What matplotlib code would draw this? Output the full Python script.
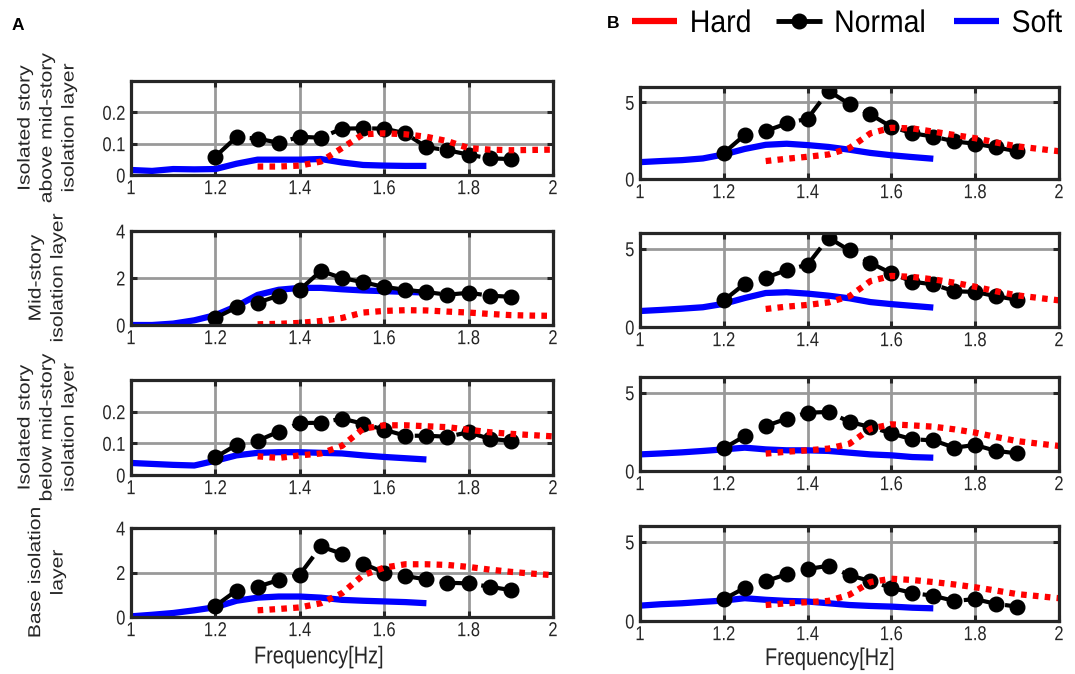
import matplotlib
matplotlib.use("Agg")
import matplotlib.pyplot as plt
from matplotlib import patheffects
from matplotlib.transforms import Affine2D
from matplotlib.lines import Line2D

# ---------------- data ----------------
freq_soft = [1.0, 1.05, 1.1, 1.15, 1.2, 1.25, 1.3, 1.35, 1.4, 1.45, 1.5, 1.55, 1.6, 1.65, 1.7]
freq_normal = [1.2, 1.25, 1.3, 1.35, 1.4, 1.45, 1.5, 1.55, 1.6, 1.65, 1.7, 1.75, 1.8, 1.85, 1.9]
freq_hard = [1.3, 1.35, 1.4, 1.45, 1.5, 1.55, 1.6, 1.65, 1.7, 1.75, 1.8, 1.85, 1.9, 1.95, 2.0]

# Column A
normal_a1 = [0.059, 0.121, 0.116, 0.103, 0.122, 0.119, 0.148, 0.149, 0.148, 0.133, 0.089, 0.079, 0.065, 0.053, 0.051]
hard_a1 = [0.027, 0.027, 0.030, 0.043, 0.086, 0.130, 0.133, 0.130, 0.122, 0.108, 0.086, 0.081, 0.079, 0.080, 0.081]
soft_a1 = [0.016, 0.013, 0.019, 0.018, 0.019, 0.036, 0.049, 0.049, 0.049, 0.051, 0.040, 0.032, 0.030, 0.029, 0.029]

normal_a2 = [0.30, 0.75, 0.95, 1.25, 1.50, 2.30, 2.00, 1.82, 1.62, 1.50, 1.40, 1.29, 1.37, 1.25, 1.20]
hard_a2 = [0.03, 0.05, 0.09, 0.17, 0.30, 0.53, 0.60, 0.63, 0.62, 0.57, 0.53, 0.47, 0.42, 0.40, 0.39]
soft_a2 = [0.00, 0.00, 0.06, 0.20, 0.42, 0.80, 1.28, 1.50, 1.58, 1.58, 1.52, 1.47, 1.44, 1.41, 1.38]

normal_a3 = [0.056, 0.095, 0.108, 0.137, 0.164, 0.165, 0.178, 0.162, 0.143, 0.124, 0.124, 0.121, 0.135, 0.114, 0.108]
hard_a3 = [0.059, 0.054, 0.062, 0.068, 0.092, 0.146, 0.157, 0.157, 0.154, 0.151, 0.143, 0.135, 0.130, 0.126, 0.122]
soft_a3 = [0.038, 0.035, 0.032, 0.030, 0.045, 0.062, 0.070, 0.072, 0.072, 0.070, 0.068, 0.062, 0.057, 0.053, 0.049]

normal_a4 = [0.50, 1.19, 1.36, 1.66, 1.91, 3.17, 2.84, 2.40, 1.99, 1.84, 1.69, 1.54, 1.51, 1.36, 1.21]
hard_a4 = [0.30, 0.36, 0.43, 0.62, 1.07, 1.88, 2.22, 2.37, 2.37, 2.34, 2.25, 2.13, 2.03, 1.95, 1.88]
soft_a4 = [0.03, 0.10, 0.18, 0.30, 0.44, 0.73, 0.87, 0.92, 0.92, 0.87, 0.77, 0.73, 0.70, 0.67, 0.62]

# Column B
normal_b1 = [1.70, 2.87, 3.13, 3.62, 3.94, 5.74, 4.89, 4.21, 3.40, 2.98, 2.77, 2.45, 2.30, 2.06, 1.81]
hard_b1 = [1.17, 1.32, 1.45, 1.60, 2.02, 2.98, 3.34, 3.30, 3.09, 2.87, 2.66, 2.38, 2.13, 1.97, 1.81]
soft_b1 = [1.10, 1.17, 1.23, 1.34, 1.60, 1.96, 2.23, 2.30, 2.21, 2.09, 1.91, 1.70, 1.55, 1.43, 1.32]

normal_b2 = [1.70, 2.76, 3.15, 3.63, 3.98, 5.70, 4.89, 4.09, 3.43, 2.89, 2.72, 2.28, 2.24, 1.96, 1.74]
hard_b2 = [1.15, 1.30, 1.41, 1.57, 1.96, 2.93, 3.26, 3.20, 3.04, 2.83, 2.57, 2.28, 2.02, 1.86, 1.70]
soft_b2 = [1.02, 1.09, 1.17, 1.26, 1.48, 1.85, 2.17, 2.22, 2.13, 2.00, 1.83, 1.59, 1.46, 1.35, 1.24]

normal_b3 = [1.45, 2.23, 2.87, 3.34, 3.72, 3.77, 3.13, 2.81, 2.40, 2.02, 1.96, 1.49, 1.66, 1.28, 1.13]
hard_b3 = [1.11, 1.23, 1.32, 1.43, 1.74, 2.70, 2.98, 2.91, 2.83, 2.66, 2.45, 2.17, 1.91, 1.75, 1.60]
soft_b3 = [1.06, 1.12, 1.19, 1.28, 1.38, 1.49, 1.38, 1.32, 1.32, 1.28, 1.17, 1.06, 1.00, 0.89, 0.85]

normal_b4 = [1.38, 2.09, 2.52, 2.95, 3.28, 3.49, 2.89, 2.52, 2.09, 1.77, 1.59, 1.27, 1.38, 1.08, 0.91]
hard_b4 = [1.01, 1.12, 1.19, 1.27, 1.66, 2.46, 2.67, 2.59, 2.46, 2.31, 2.13, 1.92, 1.70, 1.57, 1.44]
soft_b4 = [0.97, 1.06, 1.12, 1.21, 1.29, 1.44, 1.34, 1.27, 1.23, 1.12, 1.01, 0.95, 0.91, 0.84, 0.80]

x_ticks = [1, 1.2, 1.4, 1.6, 1.8, 2]
x_ticklabels = ["1", "1.2", "1.4", "1.6", "1.8", "2"]
yticks_small = [0, 0.1, 0.2]
yticklabels_small = ["0", "0.1", "0.2"]
yticks_mid = [0, 2, 4]
yticklabels_mid = ["0", "2", "4"]
yticks_b = [0, 5]
yticklabels_b = ["0", "5"]

row_labels = ["Isolated story\nabove mid-story\nisolation layer",
              "Mid-story\nisolation layer",
              "Isolated story\nbelow mid-story\nisolation layer",
              "Base isolation\nlayer"]
legend_labels = ["Hard", "Normal", "Soft"]


# ---------------- horizontal text squeeze (narrow look) ----------------
class Squeeze(patheffects.AbstractPathEffect):
    def __init__(self, sx=0.82, anchor="center"):
        super().__init__()
        self.sx = sx
        self.anchor = anchor

    def draw_path(self, renderer, gc, tpath, affine, rgbFace=None):
        verts = affine.transform(tpath.vertices)
        if len(verts) == 0:
            return
        xs = verts[:, 0]
        if self.anchor == "right":
            a = xs.max()
        elif self.anchor == "left":
            a = xs.min()
        else:
            a = 0.5 * (xs.min() + xs.max())
        t = affine + Affine2D().translate(-a, 0).scale(self.sx, 1).translate(a, 0)
        renderer.draw_path(gc, tpath, t, rgbFace)


SQ = 0.82
plt.rcParams["font.family"] = ["Liberation Sans", "DejaVu Sans"]

# ---------------- figure ----------------
W, H = 1075, 674
fig = plt.figure(figsize=(W / 100, H / 100), dpi=100)


def box(l, r, t, b):
    return [l / W, 1 - b / H, (r - l) / W, (b - t) / H]


panels = [
    (box(131, 553, 81, 175), normal_a1, hard_a1, soft_a1, (0, 0.3), yticks_small, yticklabels_small),
    (box(131, 553, 231, 325), normal_a2, hard_a2, soft_a2, (0, 4), yticks_mid, yticklabels_mid),
    (box(131, 553, 380, 475), normal_a3, hard_a3, soft_a3, (0, 0.3), yticks_small, yticklabels_small),
    (box(131, 553, 528, 617), normal_a4, hard_a4, soft_a4, (0, 4), yticks_mid, yticklabels_mid),
    (box(640, 1059, 87, 179), normal_b1, hard_b1, soft_b1, (0, 6), yticks_b, yticklabels_b),
    (box(640, 1059, 233, 327), normal_b2, hard_b2, soft_b2, (0, 6), yticks_b, yticklabels_b),
    (box(640, 1059, 377, 471), normal_b3, hard_b3, soft_b3, (0, 6), yticks_b, yticklabels_b),
    (box(640, 1059, 526, 621), normal_b4, hard_b4, soft_b4, (0, 6), yticks_b, yticklabels_b),
]

FRAME = "#262626"
RED, BLUE = "#ff0000", "#0000ff"
axes = []
for i, (pos, nrm, hrd, sft, ylim, yt, ytl) in enumerate(panels):
    ax = fig.add_axes(pos)
    axes.append(ax)
    ax.plot(freq_soft, sft, color=BLUE, lw=4.5, solid_capstyle="butt", zorder=3)
    ax.plot(freq_normal, nrm, color="black", lw=3.0, linestyle=(0, (7.2, 2.85)),
            marker="o", markersize=10.5, markerfacecolor="black",
            markeredgecolor="black", zorder=4)
    ax.plot(freq_hard, hrd, color=RED, lw=4.5, linestyle=(0, (0.9, 1.0)),
            dash_capstyle="butt", zorder=5)
    ax.set_xlim(1, 2)
    ax.set_ylim(*ylim)
    ax.set_xticks(x_ticks)
    ax.set_xticklabels(x_ticklabels)
    ax.set_yticks(yt)
    ax.set_yticklabels(ytl)
    ax.grid(True, color="#999999", lw=2.0, zorder=0)
    ax.set_axisbelow(True)
    for s in ax.spines.values():
        s.set_linewidth(2.3)
        s.set_color(FRAME)
        s.set_zorder(6)
    ax.tick_params(direction="in", length=4, width=2.2, color=FRAME,
                   top=True, right=True, labelsize=14.5, labelcolor=FRAME)
    ax.tick_params(axis="x", pad=3)
    ax.tick_params(axis="y", pad=4)
    if i in (3, 7):
        ax.set_xlabel("Frequency[Hz]", fontsize=17.5, color=FRAME)
        ax.xaxis.label.set_path_effects([Squeeze(SQ, "center")])

axes[3].xaxis.set_label_coords(0.445, -0.33)
axes[7].xaxis.set_label_coords(0.453, -0.285)

# row labels (column A)
for ax, txt in zip(axes[:4], row_labels):
    p = ax.get_position()
    fig.text(47 / W, p.y0 + p.height / 2, txt, rotation=90, ha="center", va="center",
             multialignment="center", fontsize=15.2, linespacing=1.2, color=FRAME,
             path_effects=[Squeeze(SQ, "center")])

# panel letters
fig.text(12 / W, 1 - 25 / H, "A", fontsize=12.5, fontweight="bold", va="center", ha="left")
fig.text(607 / W, 1 - 23 / H, "B", fontsize=12.5, fontweight="bold", va="center", ha="left")

# legend (solid line samples as in the reference)
LEG_SQ = 0.91
leg_handles = [
    Line2D([], [], color=RED, lw=4.5, solid_capstyle="butt"),
    Line2D([], [], color="black", lw=3.5, marker="o", markersize=10.5, solid_capstyle="butt"),
    Line2D([], [], color=BLUE, lw=4.5, solid_capstyle="butt"),
]
leg = fig.legend(leg_handles, legend_labels,
                 loc="upper left", bbox_to_anchor=(632 / W, 1 - 9 / H), ncol=3,
                 frameon=False, fontsize=22.5, handlelength=1.45, handletextpad=0.4,
                 columnspacing=0.6, borderpad=0, borderaxespad=0)
for t in leg.get_texts():
    t.set_path_effects([Squeeze(LEG_SQ, "left")])

fig.canvas.draw()
for ax in axes:
    for lbl in ax.get_xticklabels():
        lbl.set_path_effects([Squeeze(SQ, "center")])
    for lbl in ax.get_yticklabels():
        lbl.set_path_effects([Squeeze(SQ, "right")])

fig.savefig("out.png", dpi=100)
